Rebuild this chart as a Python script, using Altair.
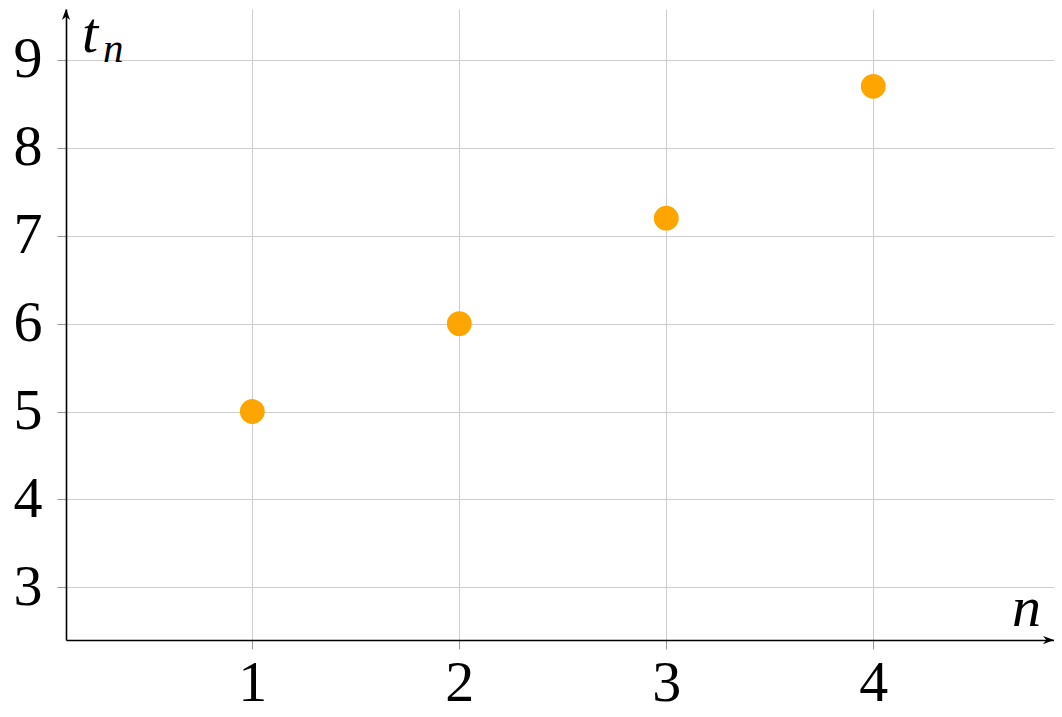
import altair as alt
import pandas as pd

# data
n_values = [1, 2, 3, 4]
t_values = [5, 6, 7.2, 8.7]
x_ticks = [1, 2, 3, 4]
y_ticks = [3, 4, 5, 6, 7, 8, 9]

X_DOMAIN = [0.1, 4.873]
Y_DOMAIN = [2.4, 9.58]

df = pd.DataFrame({"n": n_values, "t": t_values})
arrow_x = pd.DataFrame({"n": [X_DOMAIN[1]], "t": [Y_DOMAIN[0]]})
arrow_y = pd.DataFrame({"n": [X_DOMAIN[0]], "t": [Y_DOMAIN[1]]})

FONT = "Liberation Serif"

xscale = alt.Scale(domain=X_DOMAIN, nice=False, zero=False)
yscale = alt.Scale(domain=Y_DOMAIN, nice=False, zero=False)

xaxis = alt.Axis(values=x_ticks, title=None, labelPadding=5, format="d")
yaxis = alt.Axis(values=y_ticks, title=None, labelPadding=15, format="d")

points = alt.Chart(df).mark_circle(size=616, color="#FFA500", opacity=1).encode(
    x=alt.X("n:Q", scale=xscale, axis=xaxis),
    y=alt.Y("t:Q", scale=yscale, axis=yaxis),
)

arrow_right = alt.Chart(arrow_x).mark_point(
    shape="M0,0 L-2,-0.75 L-1.4,0 L-2,0.75 Z", size=121, filled=True,
    color="black", opacity=1, strokeWidth=0,
).encode(x=alt.X("n:Q", scale=xscale), y=alt.Y("t:Q", scale=yscale))

arrow_up = alt.Chart(arrow_y).mark_point(
    shape="M0,0 L-0.75,2 L0,1.4 L0.75,2 Z", size=121, filled=True,
    color="black", opacity=1, strokeWidth=0,
).encode(x=alt.X("n:Q", scale=xscale), y=alt.Y("t:Q", scale=yscale))

label_t = alt.Chart(pd.DataFrame({"s": ["t"]})).mark_text(
    font=FONT, fontStyle="italic", fontSize=58, align="left", baseline="alphabetic", color="black"
).encode(text="s:N", x=alt.value(16), y=alt.value(43))

label_t_sub = alt.Chart(pd.DataFrame({"s": ["n"]})).mark_text(
    font=FONT, fontStyle="italic", fontSize=41, align="left", baseline="alphabetic", color="black"
).encode(text="s:N", x=alt.value(37), y=alt.value(53))

label_n = alt.Chart(pd.DataFrame({"s": ["n"]})).mark_text(
    font=FONT, fontStyle="italic", fontSize=58, align="left", baseline="alphabetic", color="black"
).encode(text="s:N", x=alt.value(946), y=alt.value(617))

chart = alt.layer(points, arrow_right, arrow_up, label_t, label_t_sub, label_n).properties(
    width=988, height=631,
    autosize=alt.AutoSizeParams(type="none"),
    padding={"left": 58, "top": 1, "right": 0, "bottom": 72},
).configure_axis(
    labelFont=FONT, labelFontSize=58, labelColor="black",
    domainColor="black", domainWidth=1.6,
    tickColor="#999999", tickSize=9, tickWidth=1,
    gridColor="#cccccc", gridWidth=1,
).configure_view(strokeWidth=0)

chart.save("out.html", embed_options={"renderer": "svg", "actions": False})
